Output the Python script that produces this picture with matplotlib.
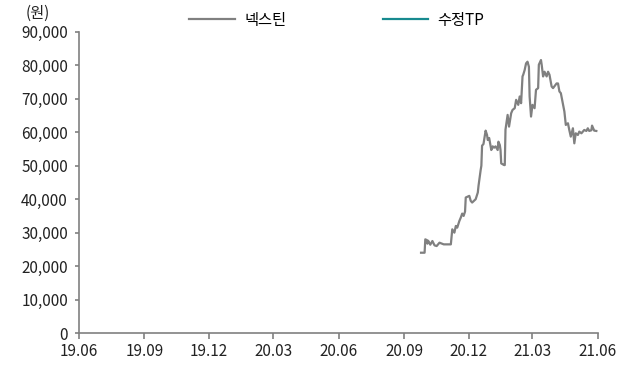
import pandas as pd
import numpy as np
from matplotlib import pyplot as plt
import matplotlib.dates as mdates

plt.rcParams['font.family'] = ['Noto Sans CJK KR', 'DejaVu Sans']

# ---- data (넥스틴 daily close, approx.) ----
dates = ['2020-09-25', '2020-09-30', '2020-10-01', '2020-10-03', '2020-10-04', '2020-10-05',
         '2020-10-08', '2020-10-11', '2020-10-14', '2020-10-17', '2020-10-21', '2020-10-27',
         '2020-11-01', '2020-11-06', '2020-11-08', '2020-11-11', '2020-11-13', '2020-11-15',
         '2020-11-18', '2020-11-20', '2020-11-22', '2020-11-24', '2020-11-26', '2020-11-27',
         '2020-12-02', '2020-12-04', '2020-12-06', '2020-12-11', '2020-12-14', '2020-12-15',
         '2020-12-18', '2020-12-19', '2020-12-20', '2020-12-22', '2020-12-25', '2020-12-27',
         '2020-12-28', '2020-12-30', '2021-01-02', '2021-01-04', '2021-01-06', '2021-01-08',
         '2021-01-11', '2021-01-12', '2021-01-14', '2021-01-15', '2021-01-16', '2021-01-20',
         '2021-01-21', '2021-01-22', '2021-01-25', '2021-01-27', '2021-01-30', '2021-02-01',
         '2021-02-04', '2021-02-06', '2021-02-09', '2021-02-11', '2021-02-13', '2021-02-15',
         '2021-02-16', '2021-02-18', '2021-02-20', '2021-02-22', '2021-02-24', '2021-02-25',
         '2021-02-27', '2021-03-01', '2021-03-04', '2021-03-06', '2021-03-09', '2021-03-10',
         '2021-03-13', '2021-03-14', '2021-03-16', '2021-03-18', '2021-03-21', '2021-03-23',
         '2021-03-25', '2021-03-28', '2021-03-30', '2021-04-04', '2021-04-06', '2021-04-08',
         '2021-04-10', '2021-04-15', '2021-04-17', '2021-04-20', '2021-04-22', '2021-04-24',
         '2021-04-27', '2021-04-29', '2021-05-01', '2021-05-04', '2021-05-06', '2021-05-09',
         '2021-05-11', '2021-05-13', '2021-05-16', '2021-05-18', '2021-05-20', '2021-05-23',
         '2021-05-24', '2021-05-27', '2021-05-30']
price = [24000, 24000, 28000, 27800, 26700, 27600,
         26400, 27500, 26200, 26000, 27000, 26500,
         26500, 26500, 31000, 30000, 32000, 31500,
         33500, 34500, 35700, 35000, 36300, 40500,
         41000, 39500, 39000, 40000, 42000, 44000,
         48700, 50000, 56000, 56500, 60500, 59200,
         57700, 58300, 54700, 55800, 55400, 55800,
         54700, 57200, 56200, 54700, 50700, 50200,
         50200, 60800, 65200, 61700, 65700, 66700,
         67200, 69700, 68200, 70700, 68700, 76700,
         77200, 78600, 80600, 81100, 79600, 70700,
         64700, 68200, 67200, 72700, 73200, 80200,
         81600, 80200, 76700, 78100, 76700, 78100,
         77200, 73700, 73200, 74600, 74600, 72200,
         71700, 66200, 62200, 62700, 60600, 58700,
         61200, 56700, 59700, 59200, 60200, 59700,
         60200, 60700, 60400, 61200, 60400, 60600,
         62000, 60500, 60400]

tp_dates = []   # 수정TP - no values shown
tp_values = []

xtick_labels = ['19.06', '19.09', '19.12', '20.03', '20.06', '20.09', '20.12', '21.03', '21.06']
xtick_dates = ['2019-06-01', '2019-09-01', '2019-12-01', '2020-03-01', '2020-06-01',
               '2020-09-01', '2020-12-01', '2021-03-01', '2021-06-01']
yticks = [0, 10000, 20000, 30000, 40000, 50000, 60000, 70000, 80000, 90000]

df = pd.DataFrame({'date': pd.to_datetime(dates), 'price': price})

fig = plt.figure(figsize=(6.22, 3.67), dpi=100)
ax = fig.add_axes([0.127, 0.0926, 0.834, 0.8204])

ax.plot(df['date'], df['price'], color='#808080', lw=1.6, label='넥스틴')
ax.plot(pd.to_datetime(tp_dates), tp_values, color='#178a8f', lw=1.6, label='수정TP')

ax.set_xlim(pd.Timestamp(xtick_dates[0]), pd.Timestamp(xtick_dates[-1]))
ax.set_ylim(0, 90000)
ax.set_xticks(pd.to_datetime(xtick_dates))
ax.set_xticklabels(xtick_labels)
ax.set_yticks(yticks)
ax.set_yticklabels([f'{v:,}' for v in yticks])

for s in ['top', 'right']:
    ax.spines[s].set_visible(False)
for s in ['left', 'bottom']:
    ax.spines[s].set_color('#808080')
    ax.spines[s].set_linewidth(1.2)
ax.tick_params(axis='both', colors='#808080', labelcolor='#222222', labelsize=11, width=1.2)
ax.tick_params(axis='x', length=4, pad=3)
ax.tick_params(axis='y', length=3, pad=5)

fig.text(0.06, 0.965, '(원)', fontsize=11, color='#222222', ha='center', va='center')

fig.legend(loc='center', bbox_to_anchor=(0.5416, 0.945), ncol=2, frameon=False,
           fontsize=11, handlelength=3.0, columnspacing=6.3, handletextpad=0.6)

fig.savefig('out.png', dpi=100)
